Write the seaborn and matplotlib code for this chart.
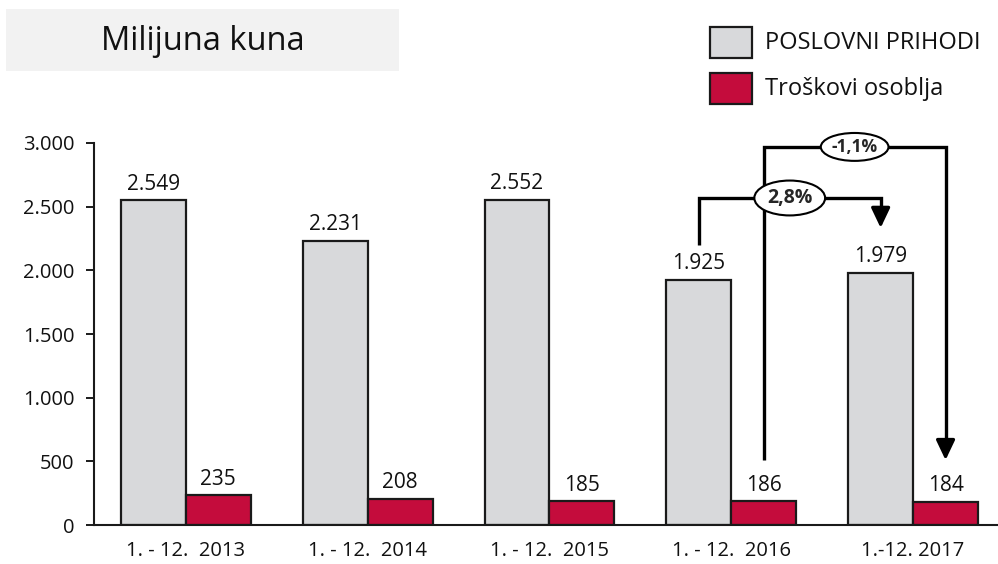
import numpy as np
import pandas as pd
import matplotlib
matplotlib.use("Agg")
import matplotlib.pyplot as plt
from matplotlib.patches import Rectangle
from matplotlib.ticker import FuncFormatter
import seaborn as sns

# Data
periods = ["1. - 12.  2013", "1. - 12.  2014", "1. - 12.  2015", "1. - 12.  2016", "1.-12. 2017"]
prihodi = [2549, 2231, 2552, 1925, 1979]
troskovi = [235, 208, 185, 186, 184]
series_names = ["POSLOVNI PRIHODI", "Troškovi osoblja"]
change_labels = ["2,8%", "-1,1%"]

gray = "#d8d9db"
red = "#c40c3c"
edge = "#1a1a1a"

df = pd.DataFrame({
    "period": periods * 2,
    "value": prihodi + troskovi,
    "series": [series_names[0]] * len(periods) + [series_names[1]] * len(periods),
})

sns.set_style("white")
plt.rcParams["font.family"] = ["Open Sans", "DejaVu Sans"]

fig = plt.figure(figsize=(9.98, 5.64), dpi=100)
ax = fig.add_axes([0.0942, 0.0691, 0.9058, 0.6774])

bw = 0.714
sns.barplot(data=df, x="period", y="value", hue="series", palette=[gray, red],
            width=bw, gap=0, saturation=1, edgecolor=edge, linewidth=1.6,
            ax=ax, legend=False)

ax.set_ylim(0, 3000)
ax.set_xlim(-0.505, 4.467)
ax.set_xlabel("")
ax.set_ylabel("")
ax.set_yticks(np.arange(0, 3001, 500))
ax.yaxis.set_major_formatter(FuncFormatter(lambda v, p: f"{int(v):,}".replace(",", ".")))
ax.tick_params(axis="y", left=True, length=6, width=1.4, color=edge, pad=8,
               labelsize=14.5, labelcolor="#111111")
ax.tick_params(axis="x", bottom=False, pad=8, labelsize=14.5, labelcolor="#111111")
for s in ["top", "right"]:
    ax.spines[s].set_visible(False)
for s in ["left", "bottom"]:
    ax.spines[s].set_color(edge)
    ax.spines[s].set_linewidth(1.5)

# value labels
off = bw / 4
for i in range(len(periods)):
    ax.annotate(f"{prihodi[i]:,}".replace(",", "."), (i - off, prihodi[i]), xytext=(0, 4),
                textcoords="offset points", ha="center", va="bottom", fontsize=15,
                color="#111111")
    ax.annotate(str(troskovi[i]), (i + off, troskovi[i]), xytext=(0, 4),
                textcoords="offset points", ha="center", va="bottom", fontsize=15,
                color="#111111")

# change brackets
def bracket(x0, x1, y0, ytop, y1, label, fs, pad):
    ax.plot([x0, x0, x1, x1], [y0, ytop, ytop, y1 + 120], color="black", lw=2.4,
            solid_joinstyle="miter", solid_capstyle="butt", zorder=5)
    ax.annotate("", xy=(x1, y1), xytext=(x1, y1 + 160),
                arrowprops=dict(arrowstyle="-|>,head_length=0.8,head_width=0.38",
                                mutation_scale=15, color="black", lw=2.4,
                                shrinkA=0, shrinkB=0), zorder=5)
    ax.text((x0 + x1) / 2, ytop, label, ha="center", va="center", fontsize=fs,
            fontweight="bold", zorder=6,
            bbox=dict(boxstyle=f"ellipse,pad={pad}", fc="white", ec="black", lw=1.5))

bracket(3 - off, 4 - off, prihodi[3] + 275, 2568, prihodi[4] + 354, change_labels[0], 14, 0.12)
bracket(3 + off, 4 + off, troskovi[3] + 324, 2969, troskovi[4] + 326, change_labels[1], 12.5, 0.05)

# title box
fig.patches.append(Rectangle((6 / 998, 1 - 71 / 564), 393 / 998, 62 / 564,
                             transform=fig.transFigure, fc="#f2f2f2", ec="none"))
fig.text(203 / 998, 1 - 41 / 564, "Milijuna kuna", ha="center", va="center", fontsize=23.5,
         color="#111111")

# legend
for k, (name, col) in enumerate(zip(series_names, [gray, red])):
    top = [27, 73][k]
    fig.patches.append(Rectangle((710 / 998, 1 - (top + 31) / 564), 42 / 998, 31 / 564,
                                 transform=fig.transFigure, fc=col, ec=edge, lw=1.6))
    fig.text(765 / 998, 1 - (top + 16) / 564, name, ha="left", va="center", fontsize=17,
             color="#111111")

fig.savefig("out.png", dpi=100)
